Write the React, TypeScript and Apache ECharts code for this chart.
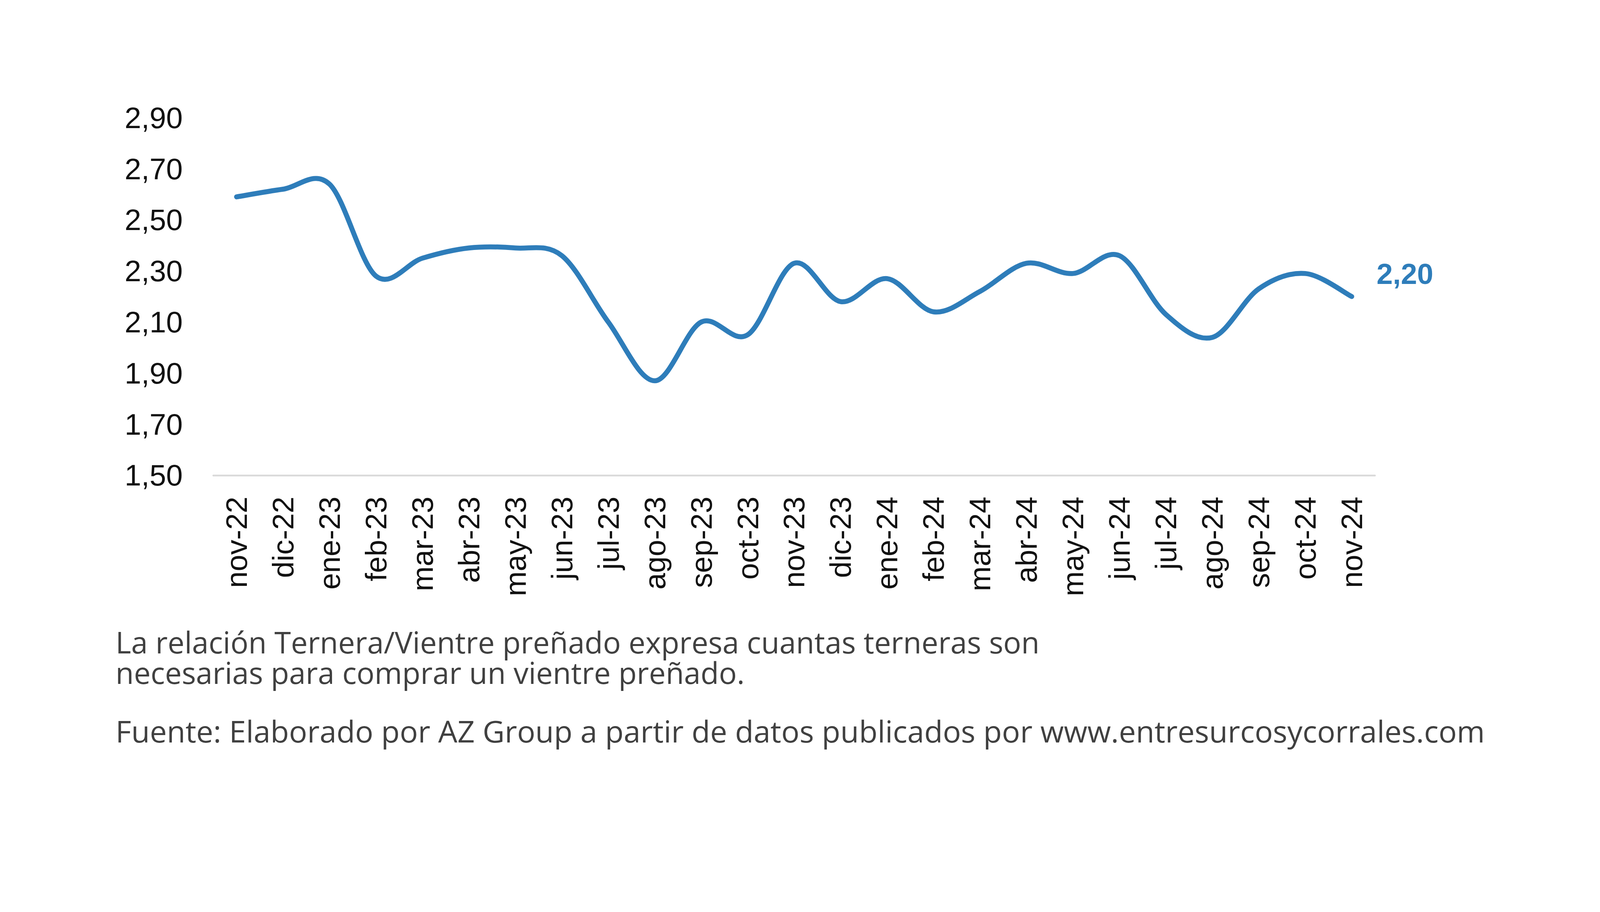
import { useRef, useEffect } from "react";
import * as echarts from "echarts";

const months = [
  "nov-22", "dic-22", "ene-23", "feb-23", "mar-23", "abr-23", "may-23", "jun-23",
  "jul-23", "ago-23", "sep-23", "oct-23", "nov-23", "dic-23", "ene-24", "feb-24",
  "mar-24", "abr-24", "may-24", "jun-24", "jul-24", "ago-24", "sep-24", "oct-24", "nov-24",
];

const ratio = [
  2.59, 2.62, 2.64, 2.28, 2.35, 2.39, 2.39, 2.36,
  2.1, 1.87, 2.1, 2.05, 2.33, 2.18, 2.27, 2.14,
  2.22, 2.33, 2.29, 2.36, 2.13, 2.04, 2.23, 2.29, 2.2,
];

const yTicks = [1.5, 1.7, 1.9, 2.1, 2.3, 2.5, 2.7, 2.9];

const notes = [
  "La relación Ternera/Vientre preñado expresa cuantas terneras son",
  "necesarias para comprar un vientre preñado.",
  "Fuente: Elaborado por AZ Group a partir de datos publicados por www.entresurcosycorrales.com",
];

const BLUE = "#2E7DBA";
const fmt = (v: number) => v.toFixed(2).replace(".", ",");

// Excel-style smoothed line (Catmull-Rom through every point)
function smoothPath(pts: number[][]) {
  let d = `M${pts[0][0]},${pts[0][1]}`;
  for (let i = 0; i < pts.length - 1; i++) {
    const p0 = pts[Math.max(i - 1, 0)];
    const p1 = pts[i];
    const p2 = pts[i + 1];
    const p3 = pts[Math.min(i + 2, pts.length - 1)];
    const c1x = p1[0] + (p2[0] - p0[0]) / 6;
    const c1y = p1[1] + (p2[1] - p0[1]) / 6;
    const c2x = p2[0] - (p3[0] - p1[0]) / 6;
    const c2y = p2[1] - (p3[1] - p1[1]) / 6;
    d += ` C${c1x},${c1y} ${c2x},${c2y} ${p2[0]},${p2[1]}`;
  }
  return d;
}

export default function App() {
  const ref = useRef<HTMLDivElement>(null);

  useEffect(() => {
    if (!ref.current) return;
    const chart = echarts.init(ref.current, undefined, { renderer: "svg" });
    // layout was measured on a 4500px wide picture
    const s = ref.current.clientWidth / 4500;
    const px = (v: number) => v * s;

    chart.setOption({
      animation: false,
      backgroundColor: "#ffffff",
      grid: { left: px(600), width: px(3267), top: px(331), height: px(1006) },
      xAxis: {
        type: "category",
        data: months,
        boundaryGap: true,
        axisLine: { lineStyle: { color: "#D9D9D9", width: px(5) } },
        axisTick: { show: false },
        axisLabel: {
          interval: 0,
          rotate: 90,
          margin: px(60),
          fontSize: px(84),
          color: "#111111",
          fontFamily: "Liberation Sans",
        },
      },
      yAxis: {
        type: "value",
        min: 1.5,
        max: 2.9,
        axisLine: { show: false },
        axisTick: { show: false },
        splitLine: { show: false },
        axisLabel: {
          customValues: yTicks,
          margin: px(86),
          fontSize: px(84),
          color: "#111111",
          fontFamily: "Liberation Sans",
          formatter: (v: number) => fmt(v),
        },
      },
      series: [
        {
          type: "custom",
          data: ratio.map((v, i) => [i, v]),
          clip: false,
          renderItem: (params: any, api: any) => {
            if (params.dataIndex !== 0) return null;
            const pts = ratio.map((v, i) => api.coord([i, v]));
            return {
              type: "path",
              shape: { pathData: smoothPath(pts) },
              style: { stroke: BLUE, lineWidth: px(14), fill: "none", lineCap: "round" },
            };
          },
        },
        {
          // carries the end value label only
          type: "line",
          data: ratio,
          symbol: "none",
          lineStyle: { opacity: 0 },
          endLabel: {
            show: true,
            distance: 0,
            offset: [px(70), px(-64)],
            formatter: (p: any) => fmt(p.value),
            color: BLUE,
            fontSize: px(82),
            fontWeight: "bold",
            fontFamily: "Liberation Sans",
          },
        },
      ],
      graphic: [
        {
          type: "text",
          left: px(325),
          top: px(1816 - 54),
          style: {
            text: notes[0] + "\n" + notes[1],
            fontSize: px(84),
            lineHeight: px(86),
            fontFamily: "Open Sans",
            fill: "#404040",
          },
        },
        {
          type: "text",
          left: px(325),
          top: px(2056 - 43),
          style: {
            text: notes[2],
            fontSize: px(85.3),
            lineHeight: px(86),
            fontFamily: "Open Sans",
            fill: "#404040",
          },
        },
      ],
    });

    return () => chart.dispose();
  }, []);

  return (
    <div
      ref={ref}
      style={{
        position: "absolute",
        left: 0,
        top: 0,
        width: "100vw",
        height: `${(100 * 2335) / 4500}vw`,
      }}
    />
  );
}
